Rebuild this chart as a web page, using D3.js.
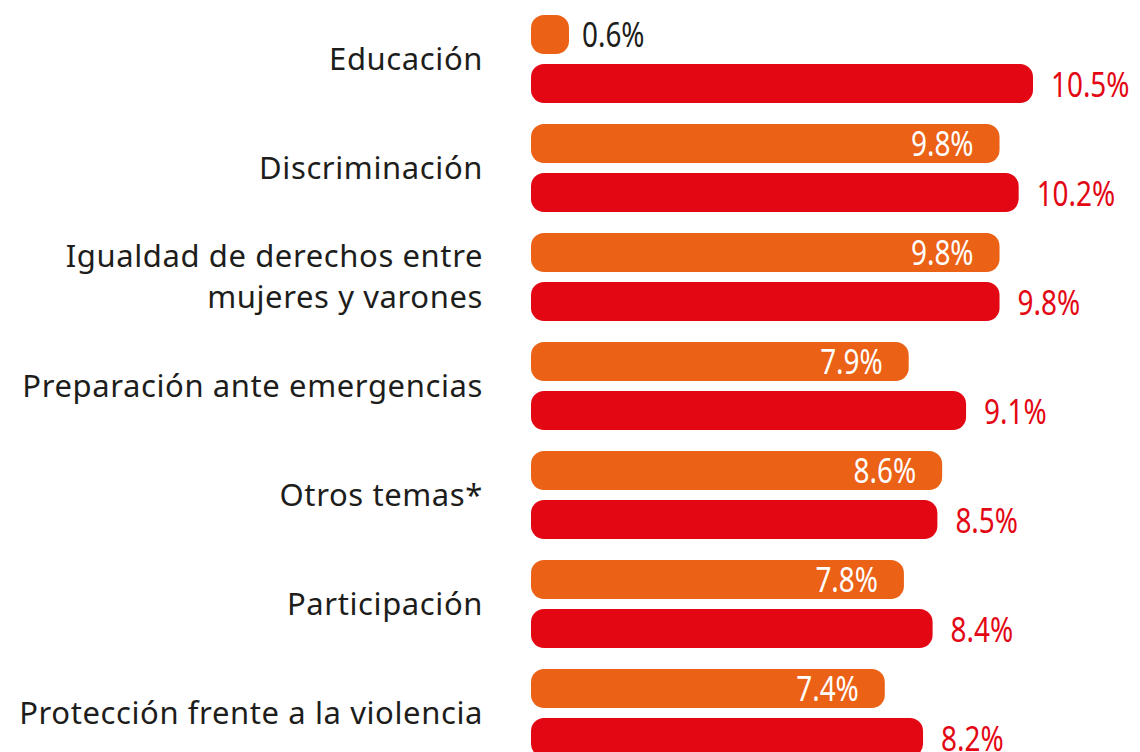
<!DOCTYPE html>
<html>
<head>
<meta charset="utf-8">
<script src="https://cdn.jsdelivr.net/npm/d3@7"></script>
<style>
    body { margin: 0; background: #fff; }
    text { font-family: "Noto Sans", "Open Sans", sans-serif; }
</style>
</head>
<body>
<div id="chart"></div>
<script>
// categorías y series (porcentajes)
const categories = [
    "Educación",
    "Discriminación",
    "Igualdad de derechos entre\nmujeres y varones",
    "Preparación ante emergencias",
    "Otros temas*",
    "Participación",
    "Protección frente a la violencia"
];
const series = ["naranja", "roja"];
const serieNaranja = [0.6, 9.8, 9.8, 7.9, 8.6, 7.8, 7.4];
const serieRoja = [10.5, 10.2, 9.8, 9.1, 8.5, 8.4, 8.2];

const colors = {naranja: "#eb6116", roja: "#e30613"};

let width = 1140, height = 752;

let svg = d3.select("#chart").append("svg")
    .attr("width", width)
    .attr("height", height);

// scales
let x = d3.scaleLinear()
    .domain([0, 10.5])
    .range([531, 1033]);

let y0 = d3.scaleBand()
    .domain(categories)
    .range([15, 15 + 109 * categories.length]);

let y1 = d3.scaleBand()
    .domain(series)
    .range([0, 88])
    .paddingInner(0.2);

let rows = categories.map((c, i) => ({
    cat: c,
    naranja: serieNaranja[i],
    roja: serieRoja[i]
}));

let group = svg.selectAll(".grupo")
    .data(rows)
    .enter().append("g")
    .attr("class", "grupo")
    .attr("transform", d => "translate(0," + y0(d.cat) + ")");

// category labels
group.each(function (d) {
    let lines = d.cat.split("\n");
    let cy = y1.range()[1] / 2;
    let lh = 41;
    let t = d3.select(this).append("text")
        .attr("text-anchor", "end")
        .attr("fill", "#1d1d1b")
        .attr("font-size", 31)
        .attr("letter-spacing", 0.6);
    lines.forEach((l, k) => {
        t.append("tspan")
            .attr("x", 483)
            .attr("y", cy + (k - (lines.length - 1) / 2) * lh)
            .attr("dy", "0.35em")
            .text(l);
    });
});

// bars
series.forEach(s => {
    group.append("rect")
        .attr("x", x(0))
        .attr("y", y1(s))
        .attr("width", d => Math.max(x(d[s]) - x(0), 38))
        .attr("height", y1.bandwidth())
        .attr("rx", 13)
        .attr("fill", colors[s]);
});

// value labels: tall, narrow digits -> squeeze Noto Sans horizontally
function squeeze(sel) {
    sel.each(function () {
        let w = this.getComputedTextLength();
        d3.select(this)
            .attr("textLength", w * 0.82)
            .attr("lengthAdjust", "spacingAndGlyphs");
    });
}

let corto = d => (x(d.naranja) - x(0)) < 100;

group.append("text")
    .attr("x", d => corto(d) ? x(0) + Math.max(x(d.naranja) - x(0), 38) + 13 : x(d.naranja) - 26)
    .attr("y", y1("naranja") + y1.bandwidth() / 2)
    .attr("dy", "0.36em")
    .attr("text-anchor", d => corto(d) ? "start" : "end")
    .attr("fill", d => corto(d) ? "#1d1d1b" : "#fff")
    .attr("font-size", 34)
    .text(d => d.naranja.toFixed(1) + "%")
    .call(squeeze);

group.append("text")
    .attr("x", d => x(d.roja) + 18)
    .attr("y", y1("roja") + y1.bandwidth() / 2 + 1)
    .attr("dy", "0.36em")
    .attr("fill", colors.roja)
    .attr("font-size", 34)
    .text(d => d.roja.toFixed(1) + "%")
    .call(squeeze);
</script>
</body>
</html>
